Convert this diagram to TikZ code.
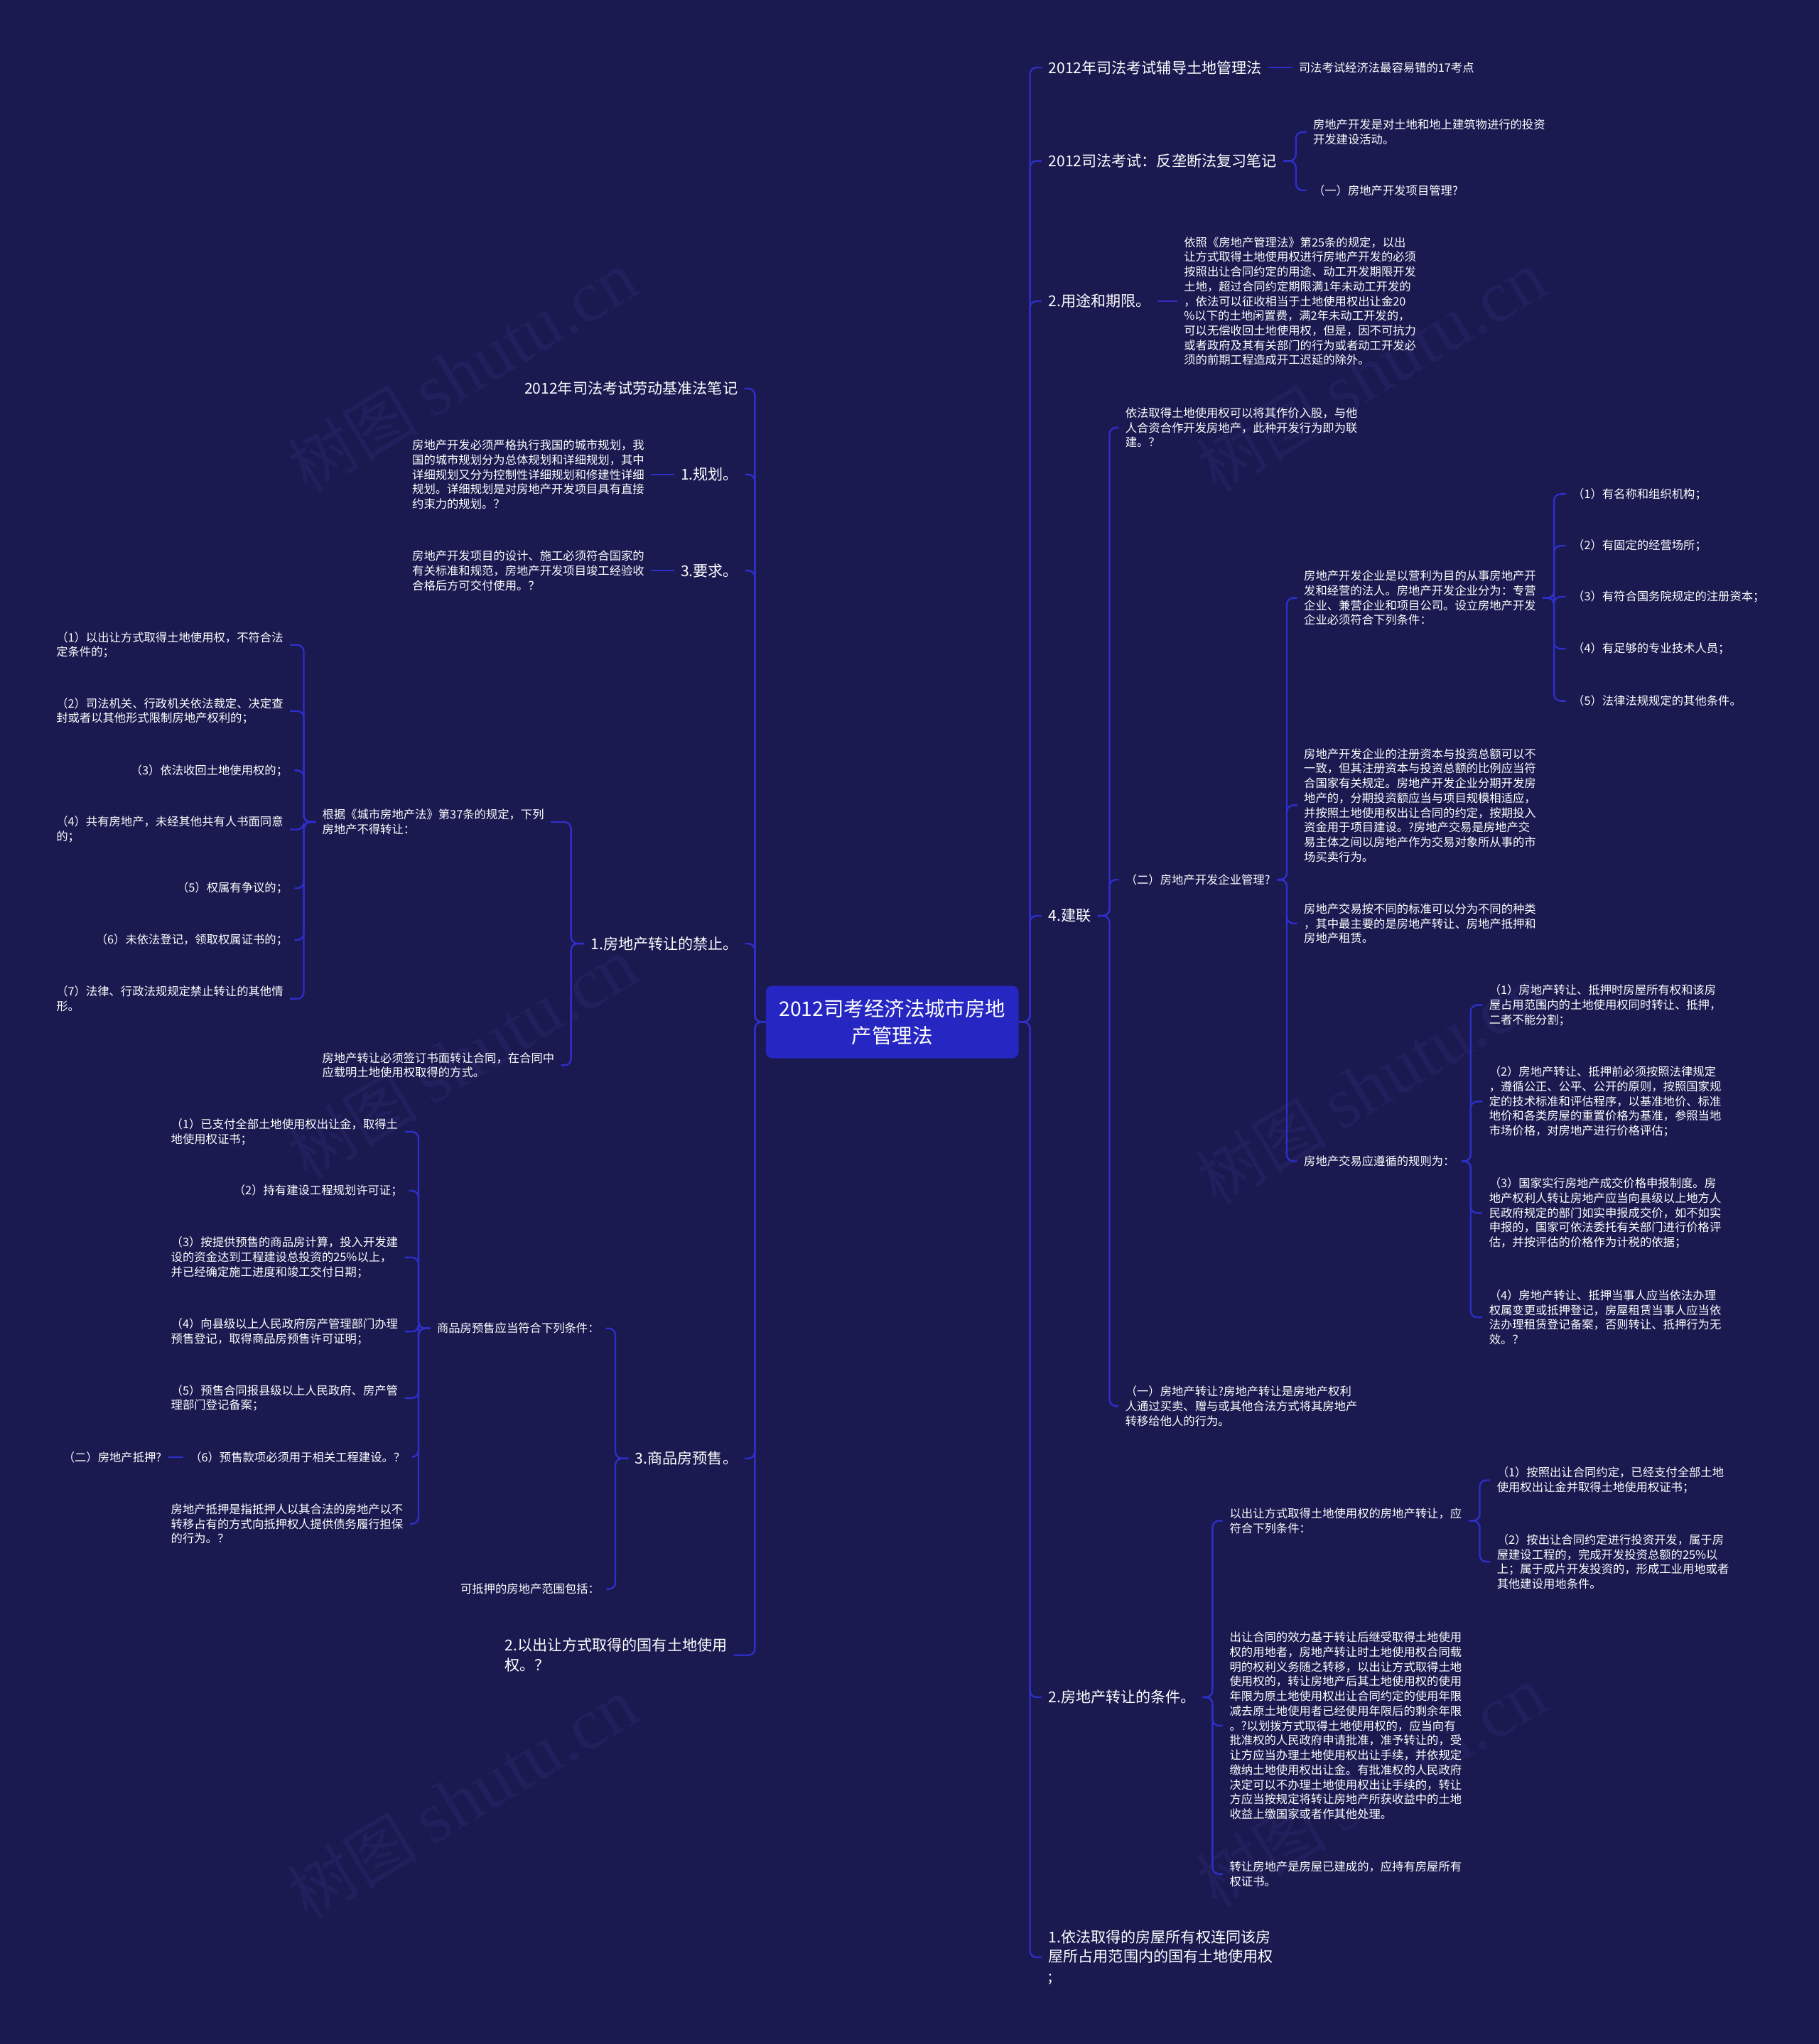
\documentclass[tikz,border=0pt]{standalone}
\usepackage{fontspec}
\setmainfont{Noto Sans CJK SC}
\newfontfamily\wmserif{Liberation Serif}
\usetikzlibrary{calc}
\definecolor{bg}{RGB}{26,25,80}
\definecolor{ln}{RGB}{46,46,200}
\definecolor{ctr}{RGB}{38,38,195}
\definecolor{wm}{RGB}{33,32,93}
\tikzset{
  sm/.style={inner sep=0pt, text=white, align=left, font=\fontsize{8.9}{11.3}\selectfont},
  md/.style={inner sep=0pt, text=white, align=left, font=\fontsize{11.5}{15.2}\selectfont},
  ctrn/.style={fill=ctr, rounded corners=5pt, minimum width=194pt, minimum height=55.6pt, inner sep=0pt, text=white, align=center, font=\fontsize{15.5}{21}\selectfont},
  link/.style={draw=ln, line width=1.3pt, rounded corners=5pt},
  wmk/.style={text=wm, font=\fontsize{50}{50}\selectfont, rotate=31, inner sep=0pt},
}
\newcommand\lkR[3]{\draw[link] ([xshift=5pt]#1.east) -- (#3 |- #1.east) -- (#3 |- #2.west) -- ([xshift=-5pt]#2.west);}
\newcommand\lkL[3]{\draw[link] ([xshift=-5pt]#1.west) -- (#3 |- #1.west) -- (#3 |- #2.east) -- ([xshift=5pt]#2.east);}
\newcommand\lkSR[2]{\draw[link] ([xshift=5pt]#1.east) -- ($(#1.east -| #2.west)+(-5pt,0)$);}
\newcommand\lkSL[2]{\draw[link] ([xshift=-5pt]#1.west) -- ($(#1.west -| #2.east)+(5pt,0)$);}
\newcommand\wmtext{树图 {\wmserif\fontsize{56}{56}\selectfont shutu.cn}}
\begin{document}
\begin{tikzpicture}[x=1pt,y=-1pt]
\fill[bg] (0,0) rectangle (1395,1568);
\useasboundingbox (0,0) rectangle (1395,1568);
% watermarks
\node[wmk] (w1) at (355,285) {\wmtext};
\node[wmk] (w2) at (1052,285) {\wmtext};
\node[wmk] (w3) at (355,812) {\wmtext};
\node[wmk] (w4) at (1052,832) {\wmtext};
\node[wmk] (w5) at (355,1380) {\wmtext};
\node[wmk] (w6) at (1052,1371) {\wmtext};
% bracket coordinates
\coordinate (trR) at (790,0);
\coordinate (trL) at (579,0);
\coordinate (bR2) at (994,0);
\coordinate (bR4) at (851,0);
\coordinate (bR4b) at (987,0);
\coordinate (bR4b1) at (1192,0);
\coordinate (bR4b4) at (1128,0);
\coordinate (bR5) at (930,0);
\coordinate (bR5a) at (1135,0);
\coordinate (bL4) at (438,0);
\coordinate (bL4a) at (233,0);
\coordinate (bL5) at (472,0);
\coordinate (bL5a) at (321,0);
% center
\node[ctrn] (C) at (684.4,784) {2012司考经济法城市房地\\产管理法};
% right side
\node[md,anchor=west] (R1) at (804,51.8) {2012年司法考试辅导土地管理法};
\node[sm,anchor=west] (R1a) at (996,51.8) {司法考试经济法最容易错的17考点};
\node[md,anchor=west] (R2) at (804,123.5) {2012司法考试：反垄断法复习笔记};
\node[sm,anchor=west] (R2a) at (1007,101.3) {房地产开发是对土地和地上建筑物进行的投资\\开发建设活动。};
\node[sm,anchor=west] (R2b) at (1007,146) {（一）房地产开发项目管理?};
\node[md,anchor=west] (R3) at (804,231) {2.用途和期限。};
\node[sm,anchor=west] (R3a) at (908,231) {依照《房地产管理法》第25条的规定，以出\\让方式取得土地使用权进行房地产开发的必须\\按照出让合同约定的用途、动工开发期限开发\\土地，超过合同约定期限满1年未动工开发的\\，依法可以征收相当于土地使用权出让金20\\\%以下的土地闲置费，满2年未动工开发的，\\可以无偿收回土地使用权，但是，因不可抗力\\或者政府及其有关部门的行为或者动工开发必\\须的前期工程造成开工迟延的除外。};
\node[md,anchor=west] (R4) at (804,702.5) {4.建联};
\node[sm,anchor=west] (R4a) at (863,328) {依法取得土地使用权可以将其作价入股，与他\\人合资合作开发房地产，此种开发行为即为联\\建。？};
\node[sm,anchor=west] (R4b) at (863,674.8) {（二）房地产开发企业管理?};
\node[sm,anchor=west] (R4b1) at (1000,458.7) {房地产开发企业是以营利为目的从事房地产开\\发和经营的法人。房地产开发企业分为：专营\\企业、兼营企业和项目公司。设立房地产开发\\企业必须符合下列条件：};
\node[sm,anchor=west] (c1) at (1206,379) {（1）有名称和组织机构；};
\node[sm,anchor=west] (c2) at (1206,418.7) {（2）有固定的经营场所；};
\node[sm,anchor=west] (c3) at (1206,457.8) {（3）有符合国务院规定的注册资本；};
\node[sm,anchor=west] (c4) at (1206,497.7) {（4）有足够的专业技术人员；};
\node[sm,anchor=west] (c5) at (1206,537.7) {（5）法律法规规定的其他条件。};
\node[sm,anchor=west] (R4b2) at (1000,617.7) {房地产开发企业的注册资本与投资总额可以不\\一致，但其注册资本与投资总额的比例应当符\\合国家有关规定。房地产开发企业分期开发房\\地产的，分期投资额应当与项目规模相适应，\\并按照土地使用权出让合同的约定，按期投入\\资金用于项目建设。?房地产交易是房地产交\\易主体之间以房地产作为交易对象所从事的市\\场买卖行为。};
\node[sm,anchor=west] (R4b3) at (1000,708.4) {房地产交易按不同的标准可以分为不同的种类\\，其中最主要的是房地产转让、房地产抵押和\\房地产租赁。};
\node[sm,anchor=west] (R4b4) at (1000,890.8) {房地产交易应遵循的规则为：};
\node[sm,anchor=west] (d1) at (1142,771) {（1）房地产转让、抵押时房屋所有权和该房\\屋占用范围内的土地使用权同时转让、抵押，\\二者不能分割；};
\node[sm,anchor=west] (d2) at (1142,845) {（2）房地产转让、抵押前必须按照法律规定\\，遵循公正、公平、公开的原则，按照国家规\\定的技术标准和评估程序，以基准地价、标准\\地价和各类房屋的重置价格为基准，参照当地\\市场价格，对房地产进行价格评估；};
\node[sm,anchor=west] (d3) at (1142,930.6) {（3）国家实行房地产成交价格申报制度。房\\地产权利人转让房地产应当向县级以上地方人\\民政府规定的部门如实申报成交价，如不如实\\申报的，国家可依法委托有关部门进行价格评\\估，并按评估的价格作为计税的依据；};
\node[sm,anchor=west] (d4) at (1142,1010.6) {（4）房地产转让、抵押当事人应当依法办理\\权属变更或抵押登记，房屋租赁当事人应当依\\法办理租赁登记备案，否则转让、抵押行为无\\效。？};
\node[sm,anchor=west] (R4c) at (863,1078.6) {（一）房地产转让?房地产转让是房地产权利\\人通过买卖、赠与或其他合法方式将其房地产\\转移给他人的行为。};
\node[md,anchor=west] (R5) at (804,1302) {2.房地产转让的条件。};
\node[sm,anchor=west] (R5a) at (943,1166.6) {以出让方式取得土地使用权的房地产转让，应\\符合下列条件：};
\node[sm,anchor=west] (e1) at (1148,1135.5) {（1）按照出让合同约定，已经支付全部土地\\使用权出让金并取得土地使用权证书；};
\node[sm,anchor=west] (e2) at (1148,1198) {（2）按出让合同约定进行投资开发，属于房\\屋建设工程的，完成开发投资总额的25\%以\\上；属于成片开发投资的，形成工业用地或者\\其他建设用地条件。};
\node[sm,anchor=west] (R5b) at (943,1323.8) {出让合同的效力基于转让后继受取得土地使用\\权的用地者，房地产转让时土地使用权合同载\\明的权利义务随之转移，以出让方式取得土地\\使用权的，转让房地产后其土地使用权的使用\\年限为原土地使用权出让合同约定的使用年限\\减去原土地使用者已经使用年限后的剩余年限\\。?以划拨方式取得土地使用权的，应当向有\\批准权的人民政府申请批准，准予转让的，受\\让方应当办理土地使用权出让手续，并依规定\\缴纳土地使用权出让金。有批准权的人民政府\\决定可以不办理土地使用权出让手续的，转让\\方应当按规定将转让房地产所获收益中的土地\\收益上缴国家或者作其他处理。};
\node[sm,anchor=west] (R5c) at (943,1437.5) {转让房地产是房屋已建成的，应持有房屋所有\\权证书。};
\node[md,anchor=west] (R6) at (804,1501.5) {1.依法取得的房屋所有权连同该房\\屋所占用范围内的国有土地使用权\\;};
% left side
\node[md,anchor=east] (L1) at (566,298) {2012年司法考试劳动基准法笔记};
\node[md,anchor=west] (L2) at (522,364) {1.规划。};
\node[sm,anchor=west] (L2a) at (316,364) {房地产开发必须严格执行我国的城市规划，我\\国的城市规划分为总体规划和详细规划，其中\\详细规划又分为控制性详细规划和修建性详细\\规划。详细规划是对房地产开发项目具有直接\\约束力的规划。？};
\node[md,anchor=west] (L3) at (522,437.7) {3.要求。};
\node[sm,anchor=west] (L3a) at (316,437.8) {房地产开发项目的设计、施工必须符合国家的\\有关标准和规范，房地产开发项目竣工经验收\\合格后方可交付使用。？};
\node[md,anchor=west] (L4) at (453,723.8) {1.房地产转让的禁止。};
\node[sm,anchor=west] (L4a) at (247,630.6) {根据《城市房地产法》第37条的规定，下列\\房地产不得转让：};
\node[sm,anchor=west] (L4b) at (247,817.2) {房地产转让必须签订书面转让合同，在合同中\\应载明土地使用权取得的方式。};
\node[sm,anchor=west] (f1) at (43,494.7) {（1）以出让方式取得土地使用权，不符合法\\定条件的；};
\node[sm,anchor=west] (f2) at (43,545.5) {（2）司法机关、行政机关依法裁定、决定查\\封或者以其他形式限制房地产权利的；};
\node[sm,anchor=east] (f3) at (221,591) {（3）依法收回土地使用权的；};
\node[sm,anchor=west] (f4) at (43,636.3) {（4）共有房地产，未经其他共有人书面同意\\的；};
\node[sm,anchor=east] (f5) at (221,681.4) {（5）权属有争议的；};
\node[sm,anchor=east] (f6) at (221,721) {（6）未依法登记，领取权属证书的；};
\node[sm,anchor=west] (f7) at (43,766.2) {（7）法律、行政法规规定禁止转让的其他情\\形。};
\node[md,anchor=west] (L5) at (487,1118.8) {3.商品房预售。};
\node[sm,anchor=west] (L5a) at (335,1019) {商品房预售应当符合下列条件：};
\node[sm,anchor=west] (L5b) at (353,1219) {可抵押的房地产范围包括：};
\node[sm,anchor=west] (g1) at (131,868.2) {（1）已支付全部土地使用权出让金，取得土\\地使用权证书；};
\node[sm,anchor=east] (g2) at (309,913.4) {（2）持有建设工程规划许可证；};
\node[sm,anchor=west] (g3) at (131,964.6) {（3）按提供预售的商品房计算，投入开发建\\设的资金达到工程建设总投资的25\%以上，\\并已经确定施工进度和竣工交付日期；};
\node[sm,anchor=west] (g4) at (131,1021.5) {（4）向县级以上人民政府房产管理部门办理\\预售登记，取得商品房预售许可证明；};
\node[sm,anchor=west] (g5) at (131,1072.5) {（5）预售合同报县级以上人民政府、房产管\\理部门登记备案；};
\node[sm,anchor=east] (g6) at (311,1117.7) {（6）预售款项必须用于相关工程建设。？};
\node[sm,anchor=east] (g6a) at (124,1117.7) {（二）房地产抵押?};
\node[sm,anchor=west] (g7) at (131,1169) {房地产抵押是指抵押人以其合法的房地产以不\\转移占有的方式向抵押权人提供债务履行担保\\的行为。？};
\node[md,anchor=west] (L6) at (387,1269.7) {2.以出让方式取得的国有土地使用\\权。？};
% trunk links
\foreach \n in {R1,R2,R3,R4,R5,R6}
  \draw[link] (C.east) -- (trR |- C.east) -- (trR |- \n.west) -- ([xshift=-5pt]\n.west);
\foreach \n in {L1,L2,L3,L4,L5,L6}
  \draw[link] (C.west) -- (trL |- C.west) -- (trL |- \n.east) -- ([xshift=5pt]\n.east);
% right links
\lkSR{R1}{R1a}
\lkR{R2}{R2a}{bR2}
\lkR{R2}{R2b}{bR2}
\lkSR{R3}{R3a}
\foreach \n in {R4a,R4b,R4c} {\lkR{R4}{\n}{bR4}}
\foreach \n in {R4b1,R4b2,R4b3,R4b4} {\lkR{R4b}{\n}{bR4b}}
\foreach \n in {c1,c2,c3,c4,c5} {\lkR{R4b1}{\n}{bR4b1}}
\foreach \n in {d1,d2,d3,d4} {\lkR{R4b4}{\n}{bR4b4}}
\foreach \n in {R5a,R5b,R5c} {\lkR{R5}{\n}{bR5}}
\lkR{R5a}{e1}{bR5a}
\lkR{R5a}{e2}{bR5a}
% left links
\lkSL{L2}{L2a}
\lkSL{L3}{L3a}
\lkL{L4}{L4a}{bL4}
\lkL{L4}{L4b}{bL4}
\foreach \n in {f1,f2,f3,f4,f5,f6,f7} {\lkL{L4a}{\n}{bL4a}}
\lkL{L5}{L5a}{bL5}
\lkL{L5}{L5b}{bL5}
\foreach \n in {g1,g2,g3,g4,g5,g6,g7} {\lkL{L5a}{\n}{bL5a}}
\lkSL{g6}{g6a}
\end{tikzpicture}
\end{document}
